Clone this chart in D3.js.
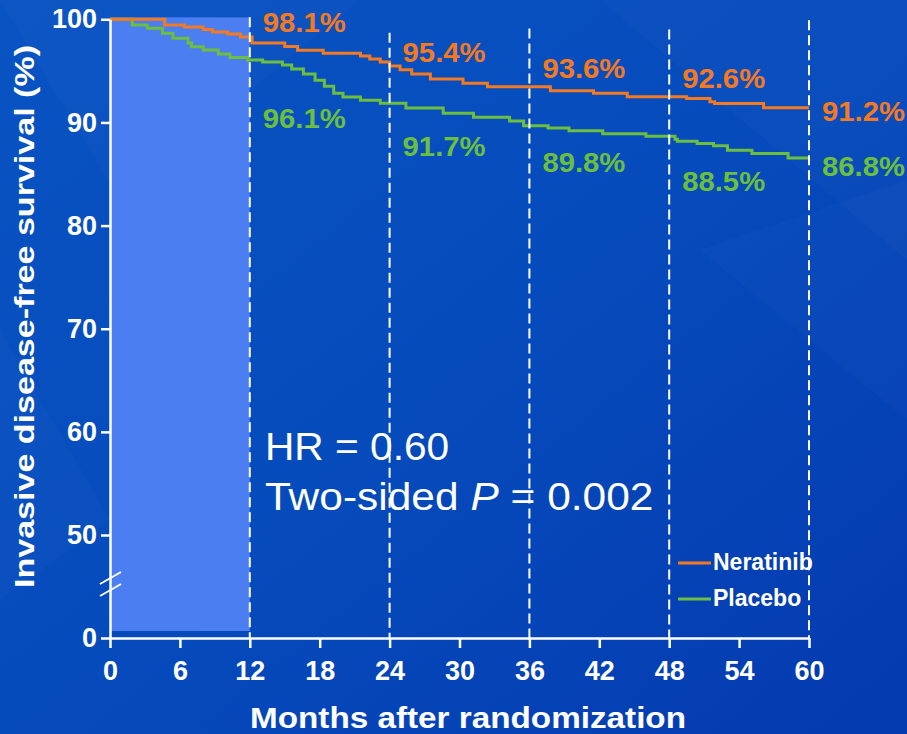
<!DOCTYPE html>
<html>
<head>
<meta charset="utf-8">
<script src="https://cdn.jsdelivr.net/npm/d3@7"></script>
<style>
  html, body { margin: 0; padding: 0; background: #0647b8; }
  svg { display: block; font-family: "Liberation Sans", Arial, sans-serif; }
</style>
</head>
<body>
<svg id="chart" width="907" height="734"></svg>
<script>
// ----------
// survival step data (months, % event-free)
var neratinibMonths = [0, 4.7, 6.4, 8.0, 8.8, 10.1, 11.2, 12.2, 15.0, 16.1, 18.3, 21.5, 22.3, 23.2, 24.0, 24.9, 25.9, 27.5, 30.3, 32.4, 37.8, 41.5, 44.4, 49.5, 51.5, 51.9, 56.1, 60];
var neratinibValues = [100, 99.45, 99.25, 99.0, 98.77, 98.57, 98.28, 97.7, 97.36, 97.0, 96.7, 96.44, 96.15, 95.85, 95.47, 95.1, 94.7, 94.2, 93.79, 93.46, 93.07, 92.82, 92.49, 92.33, 92.0, 91.84, 91.42, 91.42];

var placeboMonths = [0, 1.9, 3.2, 4.5, 5.4, 6.7, 7.0, 8.0, 9.3, 10.3, 11.8, 13.1, 14.8, 15.6, 16.6, 17.6, 18.4, 19.2, 20.0, 21.5, 23.2, 25.4, 28.6, 31.2, 34.3, 35.5, 37.6, 39.4, 42.3, 46.0, 48.5, 48.7, 50.4, 51.8, 53.0, 55.1, 58.2, 60];
var placeboValues = [100, 99.45, 99.13, 98.64, 98.16, 97.7, 97.34, 97.02, 96.63, 96.29, 96.05, 95.85, 95.56, 95.17, 94.69, 94.1, 93.52, 92.84, 92.46, 92.16, 91.87, 91.39, 90.9, 90.51, 90.13, 89.69, 89.45, 89.2, 88.91, 88.67, 88.38, 88.18, 87.96, 87.73, 87.31, 86.99, 86.56, 86.56];

var landmarkMonths = [12, 24, 36, 48, 60];
var neratinibLandmarks = [98.1, 95.4, 93.6, 92.6, 91.2];
var placeboLandmarks = [96.1, 91.7, 89.8, 88.5, 86.8];

var xTicks = [0, 6, 12, 18, 24, 30, 36, 42, 48, 54, 60];
var yTicks = [0, 50, 60, 70, 80, 90, 100];

var seriesNames = ['Neratinib', 'Placebo'];
var hrText = 'HR = 0.60';
var pValue = '0.002';

// ----------
var orange = '#f47a22';
var green = '#6cbf3e';

var svg = d3.select('#chart');
var defs = svg.append('defs');

var bg = defs.append('linearGradient')
  .attr('id', 'bg')
  .attr('x1', 0).attr('y1', 0)
  .attr('x2', 1).attr('y2', 1);
bg.append('stop').attr('offset', 0).attr('stop-color', '#0953c2');
bg.append('stop').attr('offset', 0.5).attr('stop-color', '#064bbc');
bg.append('stop').attr('offset', 1).attr('stop-color', '#043aaf');

svg.append('rect')
  .attr('width', 907)
  .attr('height', 734)
  .attr('fill', 'url(#bg)');

// faint facets in the backdrop
var facets = [
  [[0, 0], [360, 0], [120, 200]],
  [[600, 0], [907, 0], [907, 260]],
  [[0, 330], [110, 520], [0, 600]],
  [[700, 250], [907, 180], [907, 420]]
];
svg.append('g').selectAll('path')
  .data(facets)
  .join('path')
  .attr('d', function(d) { return 'M' + d.join('L') + 'Z'; })
  .attr('fill', '#ffffff')
  .attr('opacity', 0.018);

// ----------
var x = d3.scaleLinear().domain([0, 60]).range([110, 809]);
// broken axis: 0 sits below the 50..100 band
var y = d3.scaleLinear().domain([0, 50, 100]).range([638, 535, 19.3]);

// treatment year
svg.append('rect')
  .attr('x', x(0))
  .attr('y', y(100) - 2)
  .attr('width', x(12) - x(0))
  .attr('height', y(0) - 7 - (y(100) - 2))
  .attr('fill', '#4a7ef1');

// ----------
var line = d3.line()
  .x(function(d) { return x(d[0]); })
  .y(function(d) { return y(d[1]); })
  .curve(d3.curveStepAfter);

var series = [
  { name: seriesNames[0], color: orange, points: d3.zip(neratinibMonths, neratinibValues) },
  { name: seriesNames[1], color: green, points: d3.zip(placeboMonths, placeboValues) }
];

svg.append('g').selectAll('path')
  .data(series.slice().reverse())
  .join('path')
  .attr('d', function(d) { return line(d.points); })
  .attr('fill', 'none')
  .attr('stroke', function(d) { return d.color; })
  .attr('stroke-width', 3);

// ----------
// landmark labels
var orangeDy = [-7, -5, -7, -8, 11];
var greenDy = [68.5, 51, 47.5, 53, 20.6];
var labels = svg.append('g')
  .attr('font-size', 28)
  .attr('font-weight', 'bold');

landmarkMonths.forEach(function(m, i) {
  labels.append('text')
    .attr('x', x(m) + 13)
    .attr('y', y(neratinibLandmarks[i]) + orangeDy[i])
    .attr('fill', orange)
    .attr('textLength', 83)
    .attr('lengthAdjust', 'spacingAndGlyphs')
    .text(neratinibLandmarks[i].toFixed(1) + '%');
  labels.append('text')
    .attr('x', x(m) + 13)
    .attr('y', y(placeboLandmarks[i]) + greenDy[i])
    .attr('fill', green)
    .attr('textLength', 83)
    .attr('lengthAdjust', 'spacingAndGlyphs')
    .text(placeboLandmarks[i].toFixed(1) + '%');
});

// ----------
// the slide text is a bit stretched sideways
var stats = svg.append('g')
  .attr('fill', '#ffffff')
  .attr('font-size', 38);
stats.append('text')
  .attr('transform', 'translate(265,460) scale(1.07,1)')
  .text(hrText);
var pLine = stats.append('text')
  .attr('transform', 'translate(265,510) scale(1.118,1)');
pLine.append('tspan').text('Two-sided ');
pLine.append('tspan').attr('font-style', 'italic').text('P');
pLine.append('tspan').text(' = ' + pValue);

// ----------
// legend
var legend = svg.append('g')
  .attr('font-size', 23)
  .attr('font-weight', 'bold');
series.forEach(function(s, i) {
  var ly = 563 + i * 36;
  legend.append('line')
    .attr('x1', 678).attr('x2', 711)
    .attr('y1', ly).attr('y2', ly)
    .attr('stroke', s.color)
    .attr('stroke-width', 3);
  legend.append('text')
    .attr('x', 713)
    .attr('y', ly + 7)
    .attr('fill', '#ffffff')
    .text(s.name);
});

// ----------
// dashed landmark guides, drawn over the labels
var guideTop = { 12: 100.2, 24: 98.7, 36: 99.1, 48: 99.0, 60: 99.9 };
svg.append('g').selectAll('line')
  .data(landmarkMonths)
  .join('line')
  .attr('x1', function(d) { return x(d); })
  .attr('x2', function(d) { return x(d); })
  .attr('y1', function(d) { return y(guideTop[d]); })
  .attr('y2', y(0))
  .attr('stroke', '#ffffff')
  .attr('stroke-width', 2)
  .attr('stroke-dasharray', '10,5');

// ----------
// axes
var xAxis = svg.append('g')
  .attr('transform', 'translate(0,' + y(0) + ')')
  .call(d3.axisBottom(x).tickValues(xTicks).tickSize(10).tickSizeOuter(0).tickPadding(13));

var yAxis = svg.append('g')
  .attr('transform', 'translate(' + x(0) + ',0)')
  .call(d3.axisLeft(y).tickValues(yTicks).tickSize(9).tickSizeOuter(0).tickPadding(4));

[xAxis, yAxis].forEach(function(g) {
  g.selectAll('.domain, .tick line')
    .attr('stroke', '#ffffff')
    .attr('stroke-width', 2.5);
  g.selectAll('.tick text')
    .attr('fill', '#ffffff')
    .attr('font-size', 27)
    .attr('font-weight', 'bold')
    .attr('font-family', '"Liberation Sans", Arial, sans-serif');
});

// axis break marks
var breakY = [578, 590];
svg.append('g').selectAll('line')
  .data(breakY)
  .join('line')
  .attr('x1', x(0) - 10)
  .attr('x2', x(0) + 11)
  .attr('y1', function(d) { return d + 6; })
  .attr('y2', function(d) { return d - 6; })
  .attr('stroke', '#ffffff')
  .attr('stroke-width', 2);

// ----------
// axis titles
svg.append('text')
  .attr('x', 250)
  .attr('y', 728)
  .attr('fill', '#ffffff')
  .attr('font-size', 30)
  .attr('font-weight', 'bold')
  .attr('textLength', 436)
  .attr('lengthAdjust', 'spacingAndGlyphs')
  .text('Months after randomization');

svg.append('text')
  .attr('transform', 'translate(34,588) rotate(-90)')
  .attr('fill', '#ffffff')
  .attr('font-size', 27)
  .attr('font-weight', 'bold')
  .attr('textLength', 543)
  .attr('lengthAdjust', 'spacingAndGlyphs')
  .text('Invasive disease-free survival (%)');
</script>
</body>
</html>
